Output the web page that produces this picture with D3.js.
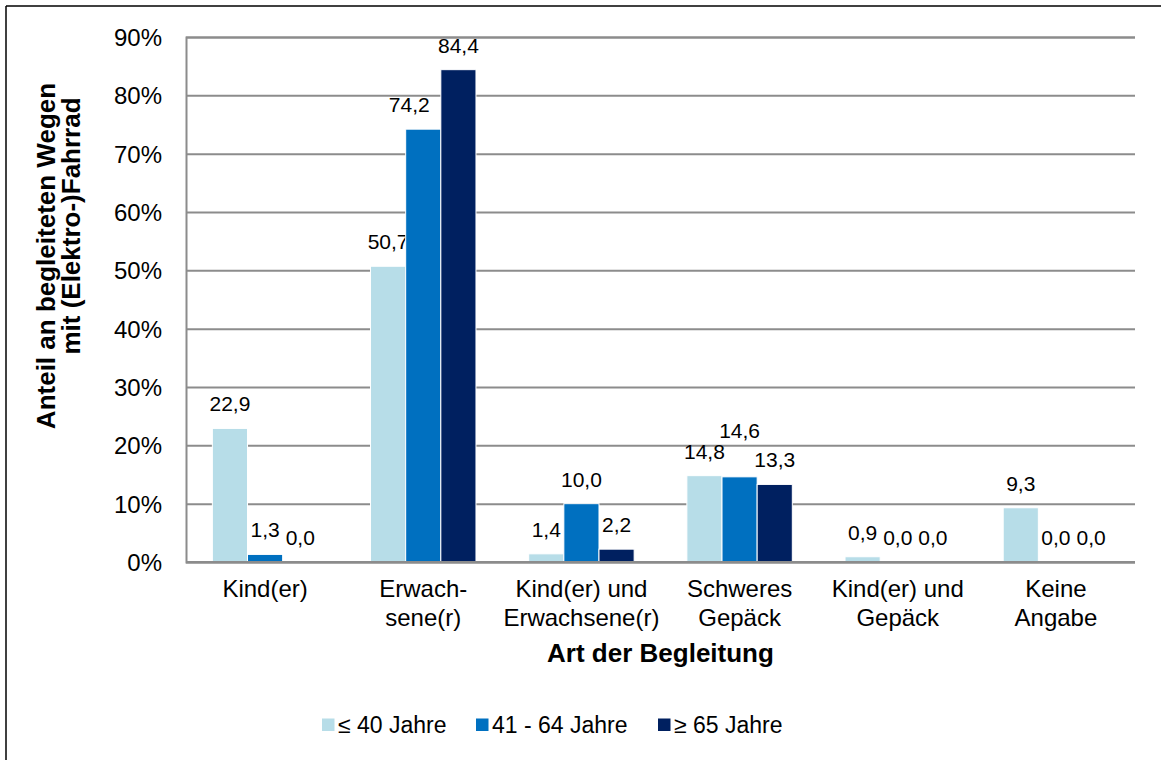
<!DOCTYPE html>
<html><head><meta charset="utf-8">
<script src="https://cdn.jsdelivr.net/npm/d3@7"></script>
<style>
html,body{margin:0;padding:0;background:#fff;}
text{font-family:"Liberation Sans",Arial,sans-serif;fill:#000;}
</style></head>
<body><svg id="c" width="1161" height="760"></svg>
<script>
const categories = [["Kind(er)"],["Erwach-","sene(r)"],["Kind(er) und","Erwachsene(r)"],["Schweres","Gepäck"],["Kind(er) und","Gepäck"],["Keine","Angabe"]];
const seriesNames = ["≤ 40 Jahre","41 - 64 Jahre","≥ 65 Jahre"];
const under40 = [22.9, 50.7, 1.4, 14.8, 0.9, 9.3];
const age41to64 = [1.3, 74.2, 10.0, 14.6, 0.0, 0.0];
const over65 = [0.0, 84.4, 2.2, 13.3, 0.0, 0.0];
const yTicks = [0,10,20,30,40,50,60,70,80,90];
const colors = ["#B7DDE8","#0070C0","#002060"];
const series = [under40, age41to64, over65];

const svg = d3.select("#c");
const fsTick = 24, fsCat = 24, fsLab = 21, fsTitle = 26, fsLeg = 23;
// outer frame (top and left visible)
svg.append("line").attr("x1",6).attr("x2",1161).attr("y1",6).attr("y2",6).attr("stroke","#000").attr("stroke-width",1.5);
svg.append("line").attr("x1",6).attr("x2",6).attr("y1",6).attr("y2",760).attr("stroke","#000").attr("stroke-width",1.5);

const L=186, R=1135, T=37, B=562;
const x0 = d3.scaleBand().domain(d3.range(categories.length)).range([L,R]).paddingInner(0).paddingOuter(0);
const bw = x0.bandwidth()/(3+1.5);
const x1 = d3.scaleBand().domain([0,1,2]).range([0,bw*3]);
const y = d3.scaleLinear().domain([0,90]).range([B,T]);

// gridlines
const yAxis = d3.axisLeft(y).tickValues(yTicks).tickSize(-(R-L)).tickPadding(24).tickFormat(d=>d+"%");
const ga = svg.append("g").attr("transform",`translate(${L},0)`).call(yAxis);
ga.select(".domain").attr("stroke","#8c8c8c").attr("stroke-width",2);
ga.selectAll(".tick line").attr("stroke","#8c8c8c").attr("stroke-width",2);
ga.selectAll(".tick text").style("font-size",fsTick+"px").attr("fill","#000").attr("dy","0.35em");

// bars
const nudge = {"3-1": [0,-22], "1-1": [-14,0]};
series.forEach((vals,si)=>{
  const g = svg.append("g");
  g.selectAll("rect").data(vals).join("rect")
    .attr("x",(d,i)=>x0(i)+x0.bandwidth()/2-bw*1.5+x1(si))
    .attr("y",d=>y(d))
    .attr("width",x1.bandwidth())
    .attr("height",d=>B-y(d))
    .attr("fill",colors[si])
    .attr("stroke","#fff").attr("stroke-width",1);
  g.selectAll("text").data(vals).join("text")
    .attr("x",(d,i)=>x0(i)+x0.bandwidth()/2-bw*1.5+x1(si)+x1.bandwidth()/2+((nudge[i+"-"+si]||[0,0])[0]))
    .attr("y",(d,i)=>y(d)-17+((nudge[i+"-"+si]||[0,0])[1]))
    .attr("text-anchor","middle").style("font-size",fsLab+"px")
    .text(d=>d3.format(".1f")(d).replace(".",","));
});
// x baseline on top
svg.append("line").attr("x1",L).attr("x2",R).attr("y1",B).attr("y2",B).attr("stroke","#8c8c8c").attr("stroke-width",2);

// category labels
categories.forEach((lines,i)=>{
  const t = svg.append("text").attr("text-anchor","middle").style("font-size",fsCat+"px");
  lines.forEach((ln,j)=>t.append("tspan").attr("x",x0(i)+x0.bandwidth()/2).attr("y",597+j*28.5).text(ln));
});
// axis titles
svg.append("text").attr("x",(L+R)/2).attr("y",662).attr("text-anchor","middle").style("font-size",fsTitle+"px").style("font-weight","bold").text("Art der Begleitung");
svg.append("text").attr("transform","translate(55,256) rotate(-90)").attr("text-anchor","middle").style("font-size",fsTitle+"px").style("font-weight","bold").text("Anteil an begleiteten Wegen");
svg.append("text").attr("transform","translate(80,226) rotate(-90)").attr("text-anchor","middle").style("font-size",fsTitle+"px").style("font-weight","bold").text("mit (Elektro-)Fahrrad");

// legend
const legX = [322, 476, 658];
seriesNames.forEach((n,i)=>{
  svg.append("rect").attr("x",legX[i]).attr("y",718.5).attr("width",12.5).attr("height",12.5).attr("fill",colors[i]);
  svg.append("text").attr("x",legX[i]+16).attr("y",733).style("font-size",fsLeg+"px").text(n);
});
</script></body></html>
